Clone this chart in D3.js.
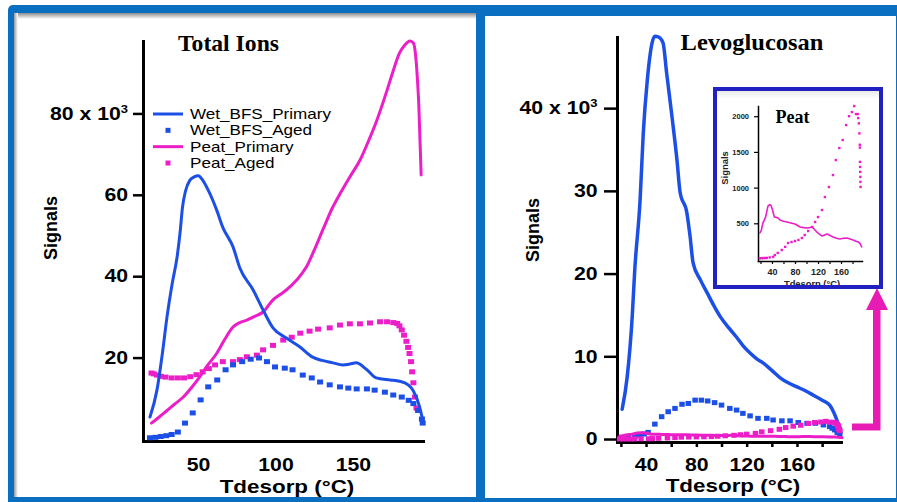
<!DOCTYPE html>
<html>
<head>
<meta charset="utf-8">
<script src="https://cdn.jsdelivr.net/npm/d3@7/dist/d3.min.js"></script>
<style>
  html, body { margin: 0; padding: 0; background: #fff; }
  svg { display: block; }
</style>
</head>
<body>
<svg id="chart" width="897" height="502"></svg>
<script>
// ---------- Total ions (signal in thousands) ----------
const totWetPrimT = [19, 23.5, 27, 30, 33.5, 36.5, 38.5, 40, 42, 44.8, 47.5, 50.2, 53, 56.5, 62, 66, 72.6, 77, 85.6, 92, 98.4, 107, 115.8, 124, 130, 137, 143.5, 148, 152, 159, 165, 174, 180, 185.6, 189, 193, 195];
const totWetPrimV = [5.4, 12, 21, 30, 38.5, 44.7, 51, 57, 61, 63.6, 64.4, 64.7, 63.6, 61.2, 56.3, 52, 47.2, 42, 36.6, 31.7, 27.3, 24.8, 22.6, 20.1, 19.3, 18.7, 18.2, 18.4, 18.7, 17, 15, 14.5, 14.2, 13.3, 11.8, 7.9, 4.7];

const totWetAgedT = [19, 22.5, 26, 29.5, 33, 37, 41.6, 46.6, 51.7, 56.6, 62.4, 67.8, 72.6, 78.5, 84, 89.4, 94.5, 99.7, 106, 111, 117.6, 123.4, 128.8, 135, 141.6, 147, 152.4, 159, 164, 170.6, 176, 181.5, 186, 189, 192, 194.5, 195];
const totWetAgedV = [0.3, 0.4, 0.6, 0.8, 1.1, 1.7, 3.9, 6.4, 9.6, 12.8, 14.5, 17, 18.2, 19, 19.6, 19.9, 19, 17.7, 17.4, 17, 15.7, 15, 14, 13.3, 12.8, 12.5, 12.3, 12.3, 12, 11.5, 10.8, 10.3, 9.5, 8.7, 7, 4.9, 3.9];

const totPeatPrimT = [20, 25, 30, 35, 40.5, 46, 51, 56, 62, 67, 72.6, 77, 81.5, 87, 92, 98.4, 103, 107, 113.5, 120, 125, 131, 137, 142, 148, 154.5, 160, 165.5, 172, 176, 180, 183.5, 186.8, 189, 190.5, 191.5, 192.5, 193.3, 194];
const totPeatPrimV = [3.9, 5.4, 7, 8.6, 10.3, 12.7, 15.2, 18, 21, 24.3, 27.5, 28.6, 29.2, 30.2, 31.2, 34.2, 35.5, 36.6, 39, 42.3, 46.4, 51.8, 57, 60.5, 64.4, 68.5, 73.2, 78.4, 85.7, 90.5, 94.8, 96.8, 97.8, 97.3, 94, 89, 82, 73, 64.9];

const totPeatAgedT = [20, 21.5, 23.5, 26, 29, 33, 37, 41, 45, 49, 53, 57, 61, 66, 72.6, 77, 81.5, 88, 92, 98.4, 105, 110.5, 116, 122, 127.5, 135, 141.6, 148, 154.5, 161, 167.5, 172, 176, 178.5, 180, 181.5, 183, 184.5, 185.6, 186.5, 187.5, 188.2, 189, 190, 191];
const totPeatAgedV = [16.2, 16, 15.7, 15.4, 15.2, 15, 15, 15, 15.3, 15.8, 16.5, 17.3, 18.2, 19, 19, 19.5, 20.2, 20.6, 21.9, 23, 24.3, 25, 26, 26.5, 27, 27.3, 28, 28.3, 28.3, 28.5, 28.8, 28.8, 28.6, 28.4, 27.8, 26.8, 25.5, 24, 22.5, 21, 19, 16.5, 13.8, 10.3, 7.6];

// ---------- Levoglucosan (signal in thousands for wet BFS, raw counts for peat) ----------
const levWetPrimT = [21, 25, 29, 31, 35.3, 37.8, 41, 44.8, 47, 50, 53.5, 56.4, 60.6, 64.6, 67, 72.5, 75, 77.4, 83, 88.5, 94, 99, 106, 112, 117, 122.7, 128, 133, 140, 146.6, 153, 160, 167, 173, 180, 186, 189, 191.7, 194, 195];
const levWetPrimV = [3.6, 7.5, 14.8, 20.4, 29, 37, 43.4, 47.9, 48.7, 48.6, 47.9, 44.2, 39, 33.7, 29.9, 27.3, 24.5, 21.3, 19.3, 17.7, 16.1, 14.8, 13.4, 12.3, 11.3, 10.4, 9.7, 9.2, 8.3, 7.4, 6.8, 6.3, 5.8, 5.3, 4.7, 4.1, 3.3, 2.3, 1.3, 0.8];

const levWetAgedT = [21, 26, 31, 35, 38.5, 41.6, 47, 52.4, 57.6, 63, 68.6, 73.6, 79, 84, 89, 94.5, 100, 106.6, 112, 117, 122.7, 129, 136, 141, 148, 154.5, 161, 168, 174.6, 181, 186, 188, 190, 192, 194];
const levWetAgedV = [0.1, 0.2, 0.3, 0.5, 0.6, 0.8, 1.8, 2.7, 3.3, 3.7, 4.2, 4.3, 4.7, 4.7, 4.6, 4.4, 4.1, 3.7, 3.5, 3.1, 2.8, 2.5, 2.5, 2.3, 2.2, 2.2, 2.0, 1.9, 1.9, 1.7, 1.5, 1.3, 1.1, 0.8, 0.5];

const levPeatPrimT = [19, 21.5, 24, 29, 33, 35.5, 38, 41, 44, 47, 50.5, 54, 60, 66, 73, 80, 89, 95, 101, 105.5, 110, 118, 127, 136, 146, 152, 158, 164, 170, 176, 181, 186, 190, 193, 196];
const levPeatPrimCounts = [365, 400, 500, 590, 740, 760, 756, 686, 590, 585, 574, 546, 530, 518, 505, 490, 448, 440, 434, 440, 448, 378, 322, 350, 308, 290, 280, 290, 294, 280, 266, 250, 238, 220, 168];

const levPeatAgedT = [19, 22, 25, 28, 31, 36, 42, 45, 50, 57, 63, 68, 74, 80, 86, 92, 97, 103, 110, 115, 120, 127, 132, 139, 146, 151, 157, 163, 169, 174, 179, 183, 186, 189, 190, 191, 192, 192.6, 192.8, 193, 193.2, 193.4, 193.6, 193.8, 194];
const levPeatAgedCounts = [10, 12, 13, 14, 15, 22, 30, 55, 85, 126, 170, 224, 238, 252, 266, 294, 336, 392, 448, 518, 588, 686, 868, 1008, 1176, 1386, 1554, 1666, 1876, 2000, 2058, 2142, 2030, 2030, 1974, 1900, 1760, 1600, 1560, 1360, 1290, 1220, 1150, 1080, 1010];

// ---------- labels ----------
const seriesNames = ["Wet_BFS_Primary", "Wet_BFS_Aged", "Peat_Primary", "Peat_Aged"];
const totYTicks = [20, 40, 60, 80];
const totXTicks = [50, 100, 150];
const levYTicks = [0, 10, 20, 30, 40];
const levXTicks = [20, 40, 60, 80, 100, 120, 140, 160, 180];
const levXLabelled = [40, 80, 120, 160];
const insetYTicks = [500, 1000, 1500, 2000];

// ---------- style ----------
const BLUE = "#1c4fe5";
const MAGENTA = "#ec1ec8";
const FRAME = "#0a6fc0";
const INSET_FRAME = "#2121c2";
const SANS = '"Liberation Sans", Arial, Helvetica, sans-serif';
const SERIF = '"Liberation Serif", "Times New Roman", serif';
const SX = 1.18;   // horizontal stretch of the lettering

const zip = (t, v, k = 1) => t.map((d, i) => ({ t: d, v: v[i] / k }));

const svg = d3.select("#chart");
const defs = svg.append("defs");

// ---------- frames ----------
const gShadeTop = defs.append("linearGradient").attr("id", "shadeTop").attr("x1", 0).attr("x2", 0).attr("y1", 0).attr("y2", 1);
gShadeTop.append("stop").attr("offset", 0).attr("stop-color", "#8c8c8c");
gShadeTop.append("stop").attr("offset", 1).attr("stop-color", "#ffffff");
const gShadeLeft = defs.append("linearGradient").attr("id", "shadeLeft").attr("x1", 0).attr("x2", 1).attr("y1", 0).attr("y2", 0);
gShadeLeft.append("stop").attr("offset", 0).attr("stop-color", "#9a9a9a");
gShadeLeft.append("stop").attr("offset", 1).attr("stop-color", "#ffffff");

svg.append("rect").attr("x", 8).attr("y", 5).attr("width", 895).attr("height", 503).attr("rx", 5).attr("fill", FRAME);
svg.append("rect").attr("x", 14).attr("y", 13).attr("width", 462).attr("height", 484).attr("fill", "#fff");
svg.append("rect").attr("x", 14).attr("y", 13).attr("width", 462).attr("height", 6).attr("fill", "url(#shadeTop)");
svg.append("rect").attr("x", 14).attr("y", 13).attr("width", 4).attr("height", 484).attr("fill", "url(#shadeLeft)");
svg.append("rect").attr("x", 485).attr("y", 16).attr("width", 411).attr("height", 482).attr("fill", "#fff");

// ---------- helpers ----------
function label(g, s, x, y, o = {}) {
  const t = g.append("text")
    .attr("transform", `translate(${x},${y})${o.rotate ? ` rotate(${o.rotate})` : ""} scale(${o.sx ?? SX},1)`)
    .attr("text-anchor", o.anchor || "middle")
    .attr("font-family", o.family || SANS)
    .attr("font-weight", o.weight || "bold")
    .attr("font-size", o.size || 18)
    .attr("fill", o.fill || "#000")
    .text(s);
  return t;
}

function styleAxis(g, o) {
  g.attr("font-family", null).attr("font-size", null);
  g.select(".domain").attr("stroke", "#000").attr("stroke-width", o.lw).attr("stroke-linecap", "square");
  g.selectAll(".tick line").attr("stroke", "#000").attr("stroke-width", o.tw);
  g.selectAll(".tick text")
    .attr("font-family", SANS).attr("font-weight", "bold")
    .attr("font-size", o.size).attr("fill", o.fill || "#000")
    .attr("transform", `scale(${o.sx},1)`);
}

function superscript(axisG, value, base, sup, size, dy) {
  axisG.selectAll(".tick").filter(d => d === value).select("text")
    .text(base)
    .append("tspan").attr("font-size", size).attr("dy", dy).text(sup);
}

function drawLine(g, data, x, y, color, width, curve) {
  g.append("path").datum(data)
    .attr("fill", "none").attr("stroke", color).attr("stroke-width", width)
    .attr("stroke-linejoin", "round").attr("stroke-linecap", "round")
    .attr("d", d3.line().x(d => x(d.t)).y(d => y(d.v)).curve(curve || d3.curveMonotoneX));
}

function drawSquares(g, data, x, y, color, w, h) {
  g.append("g").selectAll("rect").data(data).join("rect")
    .attr("x", d => x(d.t) - w / 2).attr("y", d => y(d.v) - h / 2)
    .attr("width", w).attr("height", h).attr("fill", color);
}

// ================= Total Ions =================
const xL = d3.scaleLinear().domain([14.5, 195.2]).range([143, 423]);
const yL = d3.scaleLinear().domain([-0.5, 97.8]).range([441, 41]);
const left = svg.append("g");

const yAxL = left.append("g").attr("transform", "translate(143,0)")
  .call(d3.axisLeft(yL).tickValues(totYTicks).tickSize(10).tickPadding(2.7).tickSizeOuter(0));
styleAxis(yAxL, { lw: 3, tw: 2.5, size: 18, sx: SX });
superscript(yAxL, 80, "80 x 10", "3", 11, -7);

const xAxL = left.append("g").attr("transform", "translate(0,441)")
  .call(d3.axisBottom(xL).tickValues(totXTicks).tickSize(0).tickPadding(17.6).tickSizeOuter(0));
styleAxis(xAxL, { lw: 3, tw: 0, size: 18, sx: SX });

const plotL = left.append("g");
drawLine(plotL, zip(totPeatPrimT, totPeatPrimV), xL, yL, MAGENTA, 3);
drawSquares(plotL, zip(totPeatAgedT, totPeatAgedV), xL, yL, MAGENTA, 6, 5);
drawSquares(plotL, zip(totWetAgedT, totWetAgedV), xL, yL, BLUE, 6, 5);
drawLine(plotL, zip(totWetPrimT, totWetPrimV), xL, yL, BLUE, 3);

label(left, "Total Ions", 228.5, 50.5, { family: SERIF, size: 23, sx: 1.03 });
label(left, "Signals", 57, 228, { rotate: -90, size: 18, sx: 1 });
label(left, "Tdesorp (°C)", 287, 493, { size: 19 });

// legend
const legend = left.append("g");
const legendColors = [BLUE, BLUE, MAGENTA, MAGENTA];
const legendIsLine = [true, false, true, false];
const legendRowY = d3.scalePoint().domain(seriesNames).range([114, 163]);
seriesNames.forEach((name, i) => {
  const yy = legendRowY(name);
  if (legendIsLine[i]) {
    legend.append("line").attr("x1", 153).attr("x2", 183).attr("y1", yy).attr("y2", yy)
      .attr("stroke", legendColors[i]).attr("stroke-width", 3);
  } else {
    legend.append("rect").attr("x", 165.5).attr("y", yy - 2.5).attr("width", 5).attr("height", 5)
      .attr("fill", legendColors[i]);
  }
  label(legend, name, 190, yy + 5, { anchor: "start", weight: "normal", size: 14, sx: 1.22 });
});

// ================= Levoglucosan =================
const xR = d3.scaleLinear().domain([16.9, 195]).range([617, 841]);
const yR = d3.scaleLinear().domain([-0.36, 48.6]).range([442, 37]);
const right = svg.append("g");

const yAxR = right.append("g").attr("transform", "translate(617,0)")
  .call(d3.axisLeft(yR).tickValues(levYTicks).tickSize(13).tickPadding(3.5).tickSizeOuter(0));
styleAxis(yAxR, { lw: 3, tw: 2.5, size: 18, sx: SX });
superscript(yAxR, 40, "40 x 10", "3", 11, -7);

const xAxR = right.append("g").attr("transform", "translate(0,442)")
  .call(d3.axisBottom(xR).tickValues(levXTicks).tickSize(5).tickPadding(11.6).tickSizeOuter(0)
    .tickFormat(d => levXLabelled.includes(d) ? d : ""));
styleAxis(xAxR, { lw: 3, tw: 2.5, size: 18, sx: SX });

const plotR = right.append("g");
drawLine(plotR, zip(levWetPrimT, levWetPrimV), xR, yR, BLUE, 3.5);
drawSquares(plotR, zip(levWetAgedT, levWetAgedV), xR, yR, BLUE, 5.5, 5);
drawLine(plotR, zip(levPeatPrimT, levPeatPrimCounts, 1000), xR, yR, MAGENTA, 3);
drawSquares(plotR, zip(levPeatAgedT, levPeatAgedCounts, 1000), xR, yR, MAGENTA, 5.5, 5);

label(right, "Levoglucosan", 752, 50, { family: SERIF, size: 24, sx: 1.02 });
label(right, "Signals", 539, 230, { rotate: -90, size: 18, sx: 1 });
label(right, "Tdesorp (°C)", 733, 492, { size: 19 });

// arrow from the baseline up to the peat inset
right.append("path")
  .attr("d", "M852,423.5H873V310H866L877,288L888,310H880.5V430.5H852Z")
  .attr("fill", "#e61cb4");

// ================= Peat inset =================
const inset = right.append("g");
const gInset = defs.append("linearGradient").attr("id", "insetShade").attr("x1", 0).attr("x2", 0).attr("y1", 0).attr("y2", 1);
gInset.append("stop").attr("offset", 0).attr("stop-color", "#e4e4e4");
gInset.append("stop").attr("offset", 0.05).attr("stop-color", "#ffffff");
gInset.append("stop").attr("offset", 1).attr("stop-color", "#ffffff");
inset.append("rect").attr("x", 715).attr("y", 89).attr("width", 166).attr("height", 198)
  .attr("fill", "url(#insetShade)");

const xI = d3.scaleLinear().domain([15.7, 196.5]).range([758, 862]);
const yI = d3.scaleLinear().domain([-28, 2143]).range([261, 106]);

const yAxI = inset.append("g").attr("transform", "translate(758,0)")
  .call(d3.axisLeft(yI).tickValues(insetYTicks).tickSize(4).tickPadding(5).tickSizeOuter(0)
    .tickFormat(d3.format("d")));
styleAxis(yAxI, { lw: 1.5, tw: 1.2, size: 7.5, sx: 1, fill: "#222" });

const xAxI = inset.append("g").attr("transform", "translate(0,261)")
  .call(d3.axisBottom(xI).tickValues(levXTicks).tickSize(3).tickPadding(4.5).tickSizeOuter(0)
    .tickFormat(d => levXLabelled.includes(d) ? d : ""));
styleAxis(xAxI, { lw: 1.5, tw: 1.2, size: 9, sx: 1, fill: "#222" });

drawLine(inset, zip(levPeatPrimT, levPeatPrimCounts), xI, yI, MAGENTA, 1.6, d3.curveLinear);
drawSquares(inset, zip(levPeatAgedT, levPeatAgedCounts), xI, yI, MAGENTA, 2.4, 2.4);

label(inset, "Peat", 792.5, 123, { family: SERIF, size: 18, sx: 1 });
label(inset, "Signals", 728, 168, { rotate: -90, size: 9, sx: 1.05, fill: "#222" });
label(inset, "Tdesorp (°C)", 812, 286.5, { size: 8.5, sx: 1.1, fill: "#222" });

inset.append("rect").attr("x", 715).attr("y", 89).attr("width", 166).attr("height", 198)
  .attr("fill", "none").attr("stroke", INSET_FRAME).attr("stroke-width", 4);
</script>
</body>
</html>
